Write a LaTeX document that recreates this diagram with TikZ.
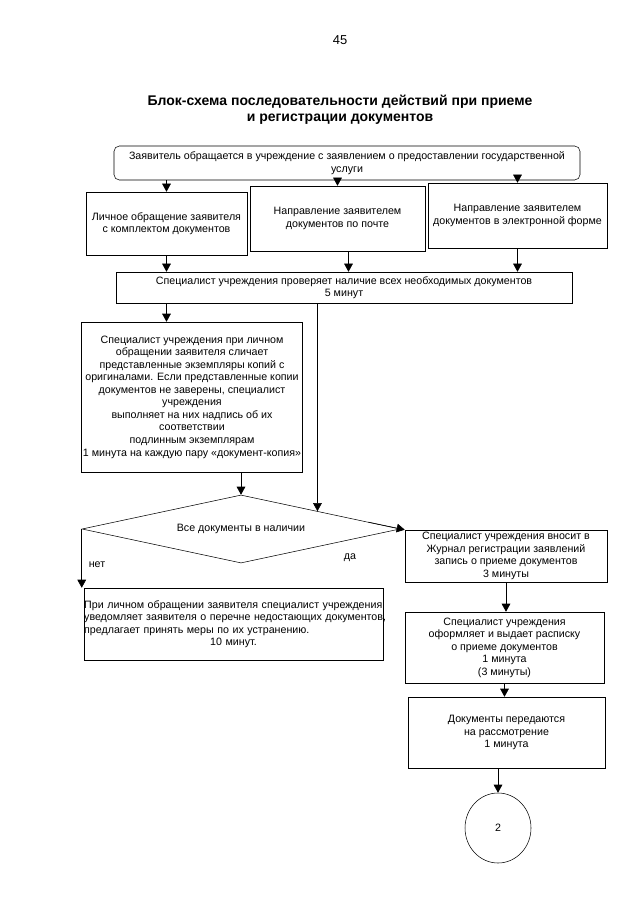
\documentclass[tikz,border=0pt]{standalone}
\usepackage{fontspec}
\setmainfont{Liberation Sans}
\usetikzlibrary{arrows.meta,positioning,calc,shapes.geometric}
\tikzset{
  box/.style={draw,thin,align=center,inner sep=1pt,
    font=\fontsize{8}{9.4}\selectfont},
  startbox/.style={box,rounded corners=4pt},
  decision/.style={draw,thin,diamond,aspect=4.6,inner sep=0pt,
    font=\fontsize{8}{9.4}\selectfont},
  endcircle/.style={draw,thin,ellipse,inner sep=0pt,
    font=\fontsize{8}{9.4}\selectfont},
  heading/.style={align=center,font=\fontsize{10.5}{12}\selectfont\bfseries},
  plain/.style={font=\fontsize{8}{9.4}\selectfont},
  arrow/.style={-{Triangle[length=6pt,width=6.5pt]},thin}
}
\newcommand{\lline}[1]{\makebox[\linewidth][l]{#1}}
\begin{document}
\begin{tikzpicture}[x=0.75pt,y=-0.75pt]
  \useasboundingbox (0,0) rectangle (640,905);
  \node[plain,font=\fontsize{9.7}{12}\selectfont] (num) at (340,40) {45};
  \node[heading] (title) at (340,110) {Блок-схема последовательности действий при приеме\\и регистрации документов};
  % obrashchenie
  \node[startbox,minimum width=349.5pt,minimum height=25.5pt] (a) at (347,163)
    {Заявитель обращается в учреждение с заявлением о предоставлении государственной\\услуги};
  \node[box,minimum width=120.75pt,minimum height=47.25pt] (b1) at (166.5,223.5)
    {Личное обращение заявителя\\с комплектом документов};
  \node[box,minimum width=131.25pt,minimum height=48.75pt] (b2) at (337.5,218.5)
    {Направление заявителем\\документов по почте};
  \node[box,minimum width=134.25pt,minimum height=48.75pt] (b3) at (517.5,215.5)
    {Направление заявителем\\документов в электронной форме};
  \node[box,minimum width=342pt,minimum height=23.25pt] (c) at (344,287.5)
    {Специалист учреждения проверяет наличие всех необходимых документов\\5 минут};
  \node[box,minimum width=165pt,minimum height=112.5pt] (s) at (192,397)
    {Специалист учреждения при личном\\обращении заявителя сличает\\представленные экземпляры копий с\\оригиналами. Если представленные копии\\документов не заверены, специалист\\учреждения\\выполняет на них надпись об их\\соответствии\\подлинным экземплярам\\1 минута на каждую пару «документ-копия»};
  \node[decision,minimum width=238.5pt,minimum height=51pt] (d) at (241,529)
    {Все документы в наличии};
  \node[box,align=left,inner xsep=0pt,text width=224pt,minimum height=54pt] (n) at (233.5,624)
    {\lline{При личном обращении заявителя специалист учреждения}\\
     \lline{уведомляет заявителя о перечне недостающих документов,}\\
     \lline{предлагает принять меры по их устранению.}\\
     \makebox[\linewidth]{10 минут.}};
  % registraciya
  \node[box,minimum width=151.5pt,minimum height=39pt] (r1) at (506,556)
    {Специалист учреждения вносит в\\Журнал регистрации заявлений\\запись о приеме документов\\3 минуты};
  \node[box,minimum width=149.25pt,minimum height=53.25pt] (r2) at (504.5,647.5)
    {Специалист учреждения\\оформляет и выдает расписку\\о приеме документов\\1 минута\\(3 минуты)};
  \node[box,minimum width=147.75pt,minimum height=53.25pt] (r3) at (506.5,732.5)
    {Документы передаются\\на рассмотрение\\1 минута};
  \node[endcircle,minimum width=49.5pt,minimum height=52.5pt] (e) at (498,828) {2};
  \node[plain] (no) at (97,565) {нет};
  \node[plain] (yes) at (350,558) {да};

  \draw[arrow] (b1.north |- a.south) -- (b1.north);
  \draw[arrow] (b2.north |- a.south) -- (b2.north);
  \draw[arrow] (b3.north |- a.south) -- (b3.north);
  \draw[arrow] (b1.south) -- (b1.south |- c.north);
  \coordinate (p2) at ($(b2.south)+(11,0)$);
  \draw[arrow] (p2) -- (p2 |- c.north);
  \draw[arrow] (b3.south) -- (b3.south |- c.north);
  \draw[arrow] (b1.south |- c.south) -- (b1.south |- s.north);
  \coordinate (d1) at ($(d.north)!0.48!(d.east)$);
  \draw[arrow] (c.south -| d1) -- (d1);
  \draw[arrow] (d.north |- s.south) -- (d.north);
  \draw[arrow] (d.west) -- (d.west |- n.north);
  \draw[arrow] ($(d.north)!0.8!(d.east)$) -- (r1.north west);
  \draw[arrow] (r1.south) -- (r1.south |- r2.north);
  \draw[arrow] (r2.south) -- (r2.south |- r3.north);
  \draw[arrow] (r3.south -| e.north) -- (e.north);
\end{tikzpicture}
\end{document}
